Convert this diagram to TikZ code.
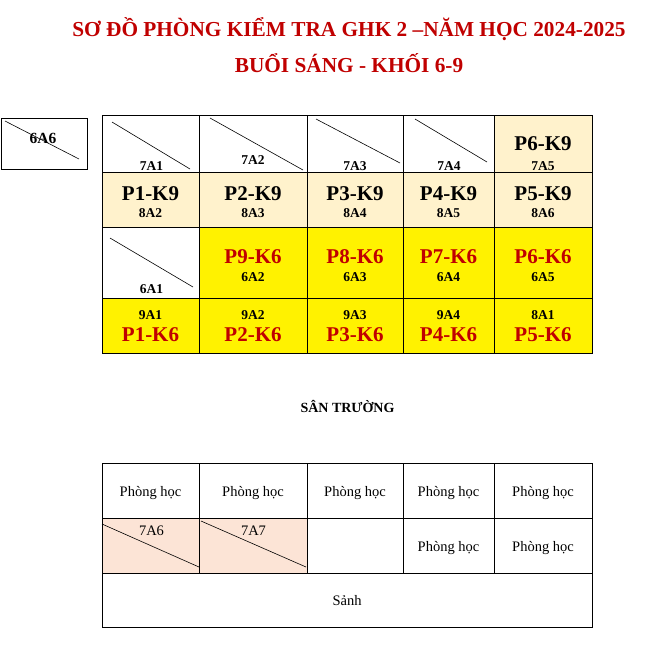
\documentclass[tikz,border=0pt]{standalone}
\usepackage{fontspec}
\setmainfont{Liberation Serif}
\definecolor{peach}{HTML}{FFF2CC}
\definecolor{rose}{HTML}{FCE4D6}
\definecolor{darkred}{HTML}{C00000}
\tikzset{
  cell/.style={draw, line width=1pt, inner sep=0, anchor=north west},
  slash/.style={line width=0.6pt},
  title/.style={anchor=base, text=darkred, font=\bfseries\fontsize{21.3}{22}\selectfont},
  room/.style={anchor=base, font=\bfseries\fontsize{21}{22}\selectfont},
  klass/.style={anchor=base, font=\bfseries\fontsize{13.5}{14}\selectfont},
  plain/.style={anchor=base, font=\fontsize{14.5}{15}\selectfont},
}
\begin{document}
\begin{tikzpicture}[x=1pt, y=-1pt]
\useasboundingbox (0,0) rectangle (652,649);
\node[title] (t1) at (349,36) {SƠ ĐỒ PHÒNG KIỂM TRA GHK 2 –NĂM HỌC 2024-2025};
\node[title] (t2) at (349,72) {BUỔI SÁNG - KHỐI 6-9};
% phong le
\node[cell, minimum width=86.5, minimum height=51] (a0) at (0.5,118) {};
\draw[slash] (5,121) -- (79,159);
\node[klass, font=\bfseries\fontsize{15.5}{16}\selectfont] (a0t) at (43,143) {6A6};
% day tren
\node[cell, minimum width=97, minimum height=57] (c11) at (102,115) {};
\node[cell, minimum width=108, minimum height=57] (c12) at (199,115) {};
\node[cell, minimum width=96, minimum height=57] (c13) at (307,115) {};
\node[cell, minimum width=91, minimum height=57] (c14) at (403,115) {};
\node[cell, fill=peach, minimum width=98, minimum height=57] (c15) at (494,115) {};
\node[cell, fill=peach, minimum width=97, minimum height=55] (c21) at (102,172) {};
\node[cell, fill=peach, minimum width=108, minimum height=55] (c22) at (199,172) {};
\node[cell, fill=peach, minimum width=96, minimum height=55] (c23) at (307,172) {};
\node[cell, fill=peach, minimum width=91, minimum height=55] (c24) at (403,172) {};
\node[cell, fill=peach, minimum width=98, minimum height=55] (c25) at (494,172) {};
\node[cell, minimum width=97, minimum height=71] (c31) at (102,227) {};
\node[cell, fill=yellow, minimum width=108, minimum height=71] (c32) at (199,227) {};
\node[cell, fill=yellow, minimum width=96, minimum height=71] (c33) at (307,227) {};
\node[cell, fill=yellow, minimum width=91, minimum height=71] (c34) at (403,227) {};
\node[cell, fill=yellow, minimum width=98, minimum height=71] (c35) at (494,227) {};
\node[cell, fill=yellow, minimum width=97, minimum height=55] (c41) at (102,298) {};
\node[cell, fill=yellow, minimum width=108, minimum height=55] (c42) at (199,298) {};
\node[cell, fill=yellow, minimum width=96, minimum height=55] (c43) at (307,298) {};
\node[cell, fill=yellow, minimum width=91, minimum height=55] (c44) at (403,298) {};
\node[cell, fill=yellow, minimum width=98, minimum height=55] (c45) at (494,298) {};
\draw[slash] (112,122) -- (190,169);
\draw[slash] (210,118) -- (303,170);
\draw[slash] (316,119) -- (400,163);
\draw[slash] (415,119) -- (487,162);
\draw[slash] (110,238) -- (193,287);
\node[klass] (k11) at (151.5,170) {7A1};
\node[klass] (k12) at (253,164) {7A2};
\node[klass] (k13) at (355,170) {7A3};
\node[klass] (k14) at (449,170) {7A4};
\node[room] (p15) at (543,150) {P6-K9};
\node[klass] (k15) at (543,170) {7A5};
\node[room] (p21) at (150.5,200) {P1-K9};
\node[room] (p22) at (253,200) {P2-K9};
\node[room] (p23) at (355,200) {P3-K9};
\node[room] (p24) at (448.5,200) {P4-K9};
\node[room] (p25) at (543,200) {P5-K9};
\node[klass] (k21) at (150.5,217.5) {8A2};
\node[klass] (k22) at (253,217.5) {8A3};
\node[klass] (k23) at (355,217.5) {8A4};
\node[klass] (k24) at (448.5,217.5) {8A5};
\node[klass] (k25) at (543,217.5) {8A6};
\node[klass] (k31) at (151.5,293) {6A1};
\node[room, text=darkred] (p32) at (253,263) {P9-K6};
\node[room, text=darkred] (p33) at (355,263) {P8-K6};
\node[room, text=darkred] (p34) at (448.5,263) {P7-K6};
\node[room, text=darkred] (p35) at (543,263) {P6-K6};
\node[klass] (k32) at (253,281) {6A2};
\node[klass] (k33) at (355,281) {6A3};
\node[klass] (k34) at (448.5,281) {6A4};
\node[klass] (k35) at (543,281) {6A5};
\node[klass] (k41) at (150.5,319) {9A1};
\node[klass] (k42) at (253,319) {9A2};
\node[klass] (k43) at (355,319) {9A3};
\node[klass] (k44) at (448.5,319) {9A4};
\node[klass] (k45) at (543,319) {8A1};
\node[room, text=darkred] (p41) at (150.5,341.5) {P1-K6};
\node[room, text=darkred] (p42) at (253,341.5) {P2-K6};
\node[room, text=darkred] (p43) at (355,341.5) {P3-K6};
\node[room, text=darkred] (p44) at (448.5,341.5) {P4-K6};
\node[room, text=darkred] (p45) at (543,341.5) {P5-K6};
\node[klass, font=\bfseries\fontsize{14}{15}\selectfont] (san) at (347.5,412.5) {SÂN TRƯỜNG};
% day duoi
\node[cell, minimum width=97, minimum height=55] (b11) at (102,463) {};
\node[cell, minimum width=108, minimum height=55] (b12) at (199,463) {};
\node[cell, minimum width=96, minimum height=55] (b13) at (307,463) {};
\node[cell, minimum width=91, minimum height=55] (b14) at (403,463) {};
\node[cell, minimum width=98, minimum height=55] (b15) at (494,463) {};
\node[cell, fill=rose, minimum width=97, minimum height=55] (b21) at (102,518) {};
\node[cell, fill=rose, minimum width=108, minimum height=55] (b22) at (199,518) {};
\node[cell, minimum width=96, minimum height=55] (b23) at (307,518) {};
\node[cell, minimum width=91, minimum height=55] (b24) at (403,518) {};
\node[cell, minimum width=98, minimum height=55] (b25) at (494,518) {};
\node[cell, minimum width=490, minimum height=54] (b3) at (102,573) {};
\draw[slash] (102,524) -- (199,567);
\draw[slash] (201,521) -- (306,567);
\node[plain] (h11) at (150.5,496.5) {Phòng học};
\node[plain] (h12) at (253,496.5) {Phòng học};
\node[plain] (h13) at (355,496.5) {Phòng học};
\node[plain] (h14) at (448.5,496.5) {Phòng học};
\node[plain] (h15) at (543,496.5) {Phòng học};
\node[plain] (h21) at (151.5,535) {7A6};
\node[plain] (h22) at (253.5,535) {7A7};
\node[plain] (h24) at (448.5,551.5) {Phòng học};
\node[plain] (h25) at (543,551.5) {Phòng học};
\node[plain] (h3) at (347,605) {Sảnh};
\end{tikzpicture}
\end{document}
